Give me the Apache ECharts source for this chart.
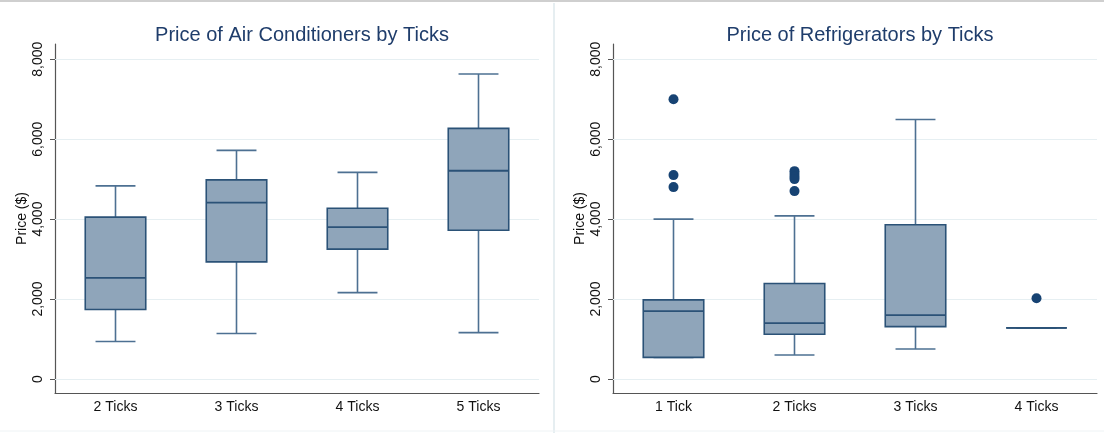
<!DOCTYPE html>
<html>
<head>
<meta charset="utf-8">
<script src="https://cdn.jsdelivr.net/npm/echarts@6/dist/echarts.min.js"></script>
<style>
    html, body { margin: 0; padding: 0; background: #fff; }
    #chart { width: 1104px; height: 433px; }
</style>
</head>
<body>
<div id="chart"></div>
<script>
// Air conditioners (left panel)
const acCategories = ['2 Ticks', '3 Ticks', '4 Ticks', '5 Ticks']
const acLow = [940, 1140, 2160, 1160]
const acQ1 = [1740, 2930, 3250, 3720]
const acMedian = [2530, 4410, 3800, 5210]
const acQ3 = [4050, 4980, 4270, 6270]
const acHigh = [4830, 5720, 5170, 7630]
const acOutliers = []

// Refrigerators (right panel)
const fridgeCategories = ['1 Tick', '2 Ticks', '3 Ticks', '4 Ticks']
const fridgeLow = [540, 600, 750, 1280]
const fridgeQ1 = [540, 1120, 1310, 1280]
const fridgeMedian = [1700, 1400, 1600, 1280]
const fridgeQ3 = [1980, 2390, 3860, 1280]
const fridgeHigh = [4000, 4080, 6490, 1280]
const fridgeOutliers = [[0, 7000], [0, 5100], [0, 4800], [1, 5200], [1, 5130], [1, 5060], [1, 5000], [1, 4700], [3, 2020]]

const yTicks = [0, 2000, 4000, 6000, 8000]

const FONT = 'Liberation Sans, Arial, sans-serif'
const BOX_FILL = '#8fa5ba'
const BOX_LINE = '#2b5277'
const WHISKER = '#4d7092'
const NAVY = '#174373'

const toRows = (low, q1, med, q3, high) => low.map((v, i) => [i, v, q1[i], med[i], q3[i], high[i]])

const renderBox = (params, api) => {
    const idx = api.value(0)
    const low = api.coord([idx, api.value(1)])
    const q1 = api.coord([idx, api.value(2)])
    const med = api.coord([idx, api.value(3)])
    const q3 = api.coord([idx, api.value(4)])
    const high = api.coord([idx, api.value(5)])
    const band = api.size([1, 0])[0]
    const half = band * 0.25
    const cap = band * 0.165
    const cx = low[0]
    const wStyle = { stroke: WHISKER, lineWidth: 1.6 }
    return {
        type: 'group',
        children: [
            { type: 'line', shape: { x1: cx, y1: high[1], x2: cx, y2: q3[1] }, style: wStyle },
            { type: 'line', shape: { x1: cx, y1: q1[1], x2: cx, y2: low[1] }, style: wStyle },
            { type: 'line', shape: { x1: cx - cap, y1: high[1], x2: cx + cap, y2: high[1] }, style: wStyle },
            { type: 'line', shape: { x1: cx - cap, y1: low[1], x2: cx + cap, y2: low[1] }, style: wStyle },
            {
                type: 'rect',
                shape: { x: cx - half, y: q3[1], width: half * 2, height: q1[1] - q3[1] },
                style: { fill: BOX_FILL, stroke: BOX_LINE, lineWidth: 1.6 }
            },
            { type: 'line', shape: { x1: cx - half, y1: med[1], x2: cx + half, y2: med[1] }, style: { stroke: BOX_LINE, lineWidth: 1.8 } }
        ]
    }
}

const grids = [
    { left: 55, width: 484, top: 44, bottom: 40 },
    { left: 613, width: 484, top: 44, bottom: 40 }
]

const makeXAxis = (cats, gridIndex) => ({
    type: 'category',
    gridIndex,
    data: cats,
    axisLine: { onZero: false, lineStyle: { color: '#555', width: 1.2 } },
    axisTick: { show: false },
    axisLabel: { color: '#111', fontSize: 14, fontFamily: FONT, margin: 7 }
})

const makeYAxis = (gridIndex) => ({
    type: 'value',
    gridIndex,
    min: -350,
    max: 8380,
    name: 'Price ($)',
    nameLocation: 'middle',
    nameGap: 26,
    nameTextStyle: { color: '#111', fontSize: 14, fontFamily: FONT },
    axisLine: { show: true, lineStyle: { color: '#555', width: 1.2 } },
    axisTick: { show: true, length: 5, customValues: yTicks, lineStyle: { color: '#555' } },
    axisLabel: {
        customValues: yTicks,
        rotate: 90,
        margin: 10,
        color: '#111',
        fontSize: 14,
        fontFamily: FONT,
        formatter: v => v.toLocaleString('en-US')
    },
    splitLine: { show: false }
})

const gridLines = (axisIndex) => ({
    type: 'line',
    xAxisIndex: axisIndex,
    yAxisIndex: axisIndex,
    data: [],
    z: 1,
    silent: true,
    markLine: {
        silent: true,
        z: 1,
        symbol: 'none',
        label: { show: false },
        lineStyle: { color: '#e6eff2', type: 'solid', width: 1.2 },
        data: yTicks.map(v => ({ yAxis: v }))
    }
})

const boxes = (rows, axisIndex) => ({
    type: 'custom',
    xAxisIndex: axisIndex,
    yAxisIndex: axisIndex,
    renderItem: renderBox,
    encode: { x: 0, y: [1, 2, 3, 4, 5] },
    data: rows,
    z: 3
})

const outliers = (points, axisIndex) => ({
    type: 'scatter',
    xAxisIndex: axisIndex,
    yAxisIndex: axisIndex,
    data: points,
    symbolSize: 10,
    itemStyle: { color: NAVY, opacity: 1 },
    z: 4
})

const chart = echarts.init(document.getElementById('chart'))

chart.setOption({
    backgroundColor: '#fff',
    animation: false,
    title: [
        {
            text: 'Price of Air Conditioners by Ticks',
            left: 297, top: 20, textAlign: 'center',
            textStyle: { color: '#1f3d6b', fontSize: 20, fontWeight: 'normal', fontFamily: FONT }
        },
        {
            text: 'Price of Refrigerators by Ticks',
            left: 855, top: 20, textAlign: 'center',
            textStyle: { color: '#1f3d6b', fontSize: 20, fontWeight: 'normal', fontFamily: FONT }
        }
    ],
    graphic: [
        { type: 'line', shape: { x1: 0, y1: 1, x2: 1104, y2: 1 }, style: { stroke: '#cfcfcf', lineWidth: 2 } },
        { type: 'line', shape: { x1: 554, y1: 3, x2: 554, y2: 433 }, style: { stroke: '#e6eef1', lineWidth: 2 } },
        { type: 'line', shape: { x1: 0, y1: 431, x2: 1104, y2: 431 }, style: { stroke: '#eef3f5', lineWidth: 1 } }
    ],
    grid: grids,
    xAxis: [makeXAxis(acCategories, 0), makeXAxis(fridgeCategories, 1)],
    yAxis: [makeYAxis(0), makeYAxis(1)],
    series: [
        gridLines(0),
        gridLines(1),
        boxes(toRows(acLow, acQ1, acMedian, acQ3, acHigh), 0),
        boxes(toRows(fridgeLow, fridgeQ1, fridgeMedian, fridgeQ3, fridgeHigh), 1),
        outliers(acOutliers, 0),
        outliers(fridgeOutliers, 1)
    ]
})
</script>
</body>
</html>
